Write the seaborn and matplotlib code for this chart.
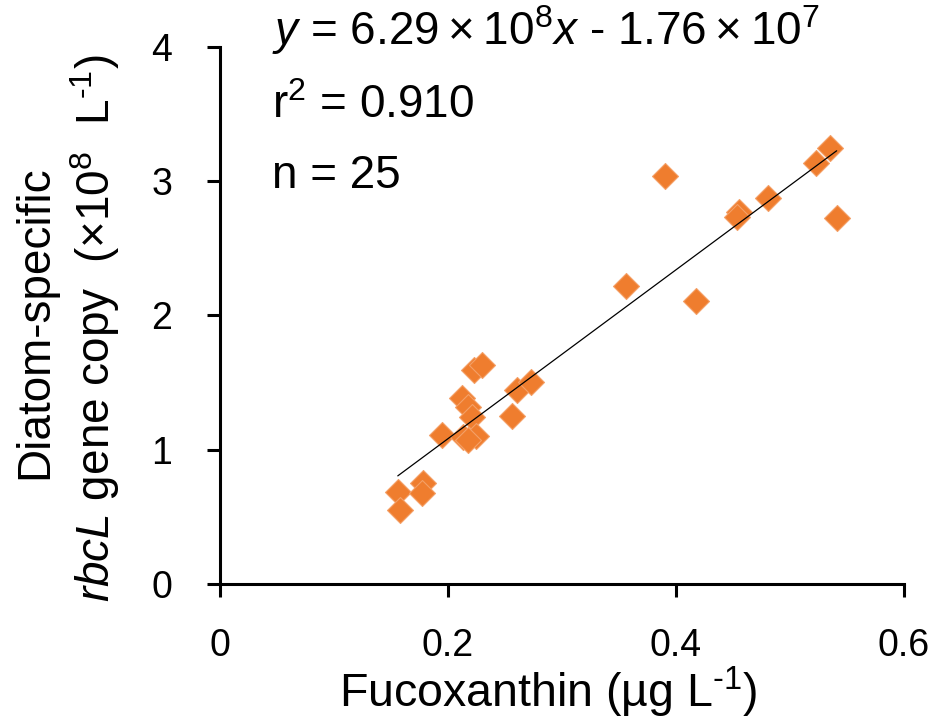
import numpy as np
import pandas as pd
import matplotlib
matplotlib.use("Agg")
import matplotlib.pyplot as plt
import seaborn as sns

# Fucoxanthin (ug/L) vs diatom rbcL copies (x1e8 per L)
fucoxanthin = [0.156, 0.158, 0.178, 0.177, 0.195, 0.212, 0.218, 0.221, 0.213,
               0.225, 0.218, 0.223, 0.230, 0.256, 0.261, 0.273, 0.390, 0.356,
               0.418, 0.455, 0.454, 0.481, 0.523, 0.535, 0.541]
rbcl_copies = [0.685, 0.551, 0.752, 0.678, 1.109, 1.385, 1.318, 1.243, 1.095,
               1.102, 1.070, 1.593, 1.631, 1.251, 1.445, 1.504, 3.038, 2.219,
               2.107, 2.770, 2.733, 2.874, 3.135, 3.246, 2.725]

slope = 6.29      # x1e8
intercept = -0.176  # x1e8
x_ticks = [0, 0.2, 0.4, 0.6]
y_ticks = [0, 1, 2, 3, 4]

sns.set_style("ticks")
plt.rcParams['font.family'] = ['Liberation Sans', 'DejaVu Sans']
plt.rcParams['mathtext.fontset'] = 'custom'
plt.rcParams['mathtext.rm'] = 'Liberation Sans'
plt.rcParams['mathtext.it'] = 'Liberation Sans:italic'
for k in ['text.color', 'axes.labelcolor', 'xtick.color', 'ytick.color']:
    plt.rcParams[k] = 'black'

df = pd.DataFrame({'fuco': fucoxanthin, 'rbcl': rbcl_copies})

fig = plt.figure(figsize=(9.34, 7.23), dpi=100)
ax = fig.add_axes([0.2355, 0.1923, 0.7323, 0.7427])

sns.scatterplot(data=df, x='fuco', y='rbcl', marker='D', s=175,
                color='#EF7D2E', edgecolor='#F4A067', linewidth=0.8,
                ax=ax, zorder=2, clip_on=False)

# regression line over the data range
fit_x = np.array([min(fucoxanthin), max(fucoxanthin)])
fit = pd.DataFrame({'x': fit_x, 'y': slope * fit_x + intercept})
sns.lineplot(data=fit, x='x', y='y', color='black', linewidth=0.9,
             ax=ax, zorder=3)

ax.set_xlim(0, 0.6)
ax.set_ylim(0, 4)
ax.set_xticks(x_ticks)
ax.set_xticklabels(['0', '0.2', '0.4', '0.6'])
ax.set_yticks(y_ticks)
ax.tick_params(labelsize=27, length=9.5, width=2.2, pad=25, color='black',
               labelcolor='black')
ax.tick_params(axis='x', pad=22)
for side in ['left', 'bottom']:
    ax.spines[side].set_linewidth(2.2)
    ax.spines[side].set_color('black')
sns.despine(ax=ax)

ax.set_xlabel(r"Fucoxanthin (µg L$^{\text{-}1}$)", fontsize=33.5, labelpad=0.5)
ax.xaxis.label.set_x(0.48)
ax.set_ylabel("")
fig.text(0.0375, 0.555, "Diatom-specific", rotation=90, ha='center',
         va='center', fontsize=33)
fig.text(0.1017, 0.546,
         r"$\it{rbcL}$ gene copy  (×10$^{8}$  L$^{\text{-}1}$)",
         rotation=90, ha='center', va='center', fontsize=33)

ax.text(0.0456, 4.013,
        r"$y$ = 6.29$\:$×$\:$10$^{8}x$ - 1.76$\:$×$\:$10$^{7}$",
        fontsize=33, va='baseline', ha='left', clip_on=False)
ax.text(0.0456, 3.47, r"r$^{2}$ = 0.910", fontsize=33, va='baseline', ha='left')
ax.text(0.0456, 2.95, "n = 25", fontsize=33, va='baseline', ha='left')

fig.savefig("out.png", dpi=100)
